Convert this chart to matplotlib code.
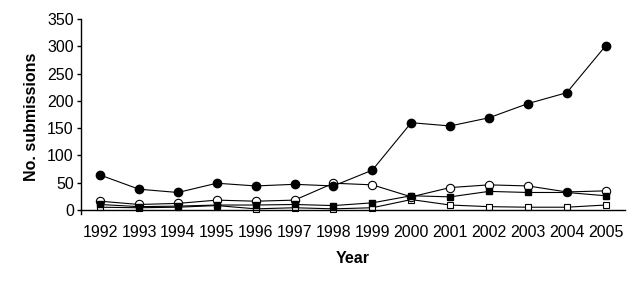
import matplotlib.pyplot as plt

plt.rcParams['font.family'] = ['Liberation Sans', 'DejaVu Sans']

years = ['1992', '1993', '1994', '1995', '1996', '1997', '1998',
         '1999', '2000', '2001', '2002', '2003', '2004', '2005']
filled_circles = [64, 38, 32, 49, 44, 47, 44, 73, 160, 154, 169, 195, 215, 301]
open_circles = [16, 10, 12, 18, 16, 18, 49, 46, 24, 41, 46, 44, 33, 35]
filled_squares = [10, 6, 7, 9, 9, 10, 8, 13, 26, 24, 34, 32, 32, 26]
open_squares = [5, 4, 5, 8, 2, 4, 2, 4, 19, 9, 6, 5, 5, 9]

fig = plt.figure(figsize=(6.33, 2.85), dpi=100)
ax = fig.add_axes([0.1275, 0.25, 0.86, 0.683])
x = range(len(years))

line_kw = dict(color='black', linewidth=0.8)
ax.plot(x, open_squares, marker='s', markersize=4, markerfacecolor='white',
        markeredgecolor='black', markeredgewidth=0.8, **line_kw)
ax.plot(x, open_circles, marker='o', markersize=6, markerfacecolor='white',
        markeredgecolor='black', markeredgewidth=0.8, **line_kw)
ax.plot(x, filled_squares, marker='s', markersize=4, markerfacecolor='black',
        markeredgecolor='black', **line_kw)
ax.plot(x, filled_circles, marker='o', markersize=6, markerfacecolor='black',
        markeredgecolor='black', **line_kw)

ax.set_xlim(-0.5, len(years) - 0.5)
ax.set_ylim(-7, 350)
ax.set_yticks(range(0, 351, 50))
ax.set_xticks(list(x))
ax.set_xticklabels(years)

for s in ['top', 'right']:
    ax.spines[s].set_visible(False)
ax.spines['bottom'].set_position(('data', 0))
ax.spines['left'].set_linewidth(1.0)
ax.spines['bottom'].set_linewidth(1.0)
ax.tick_params(axis='x', length=0, labelsize=11.5, pad=11)
ax.tick_params(axis='y', length=3, width=1.0, labelsize=11.5, pad=2)

ax.set_xlabel('Year', fontsize=11.5, fontweight='bold', labelpad=8)
ax.set_ylabel('No. submissions', fontsize=11.5, fontweight='bold', labelpad=6)

fig.savefig('out.png', dpi=100)
